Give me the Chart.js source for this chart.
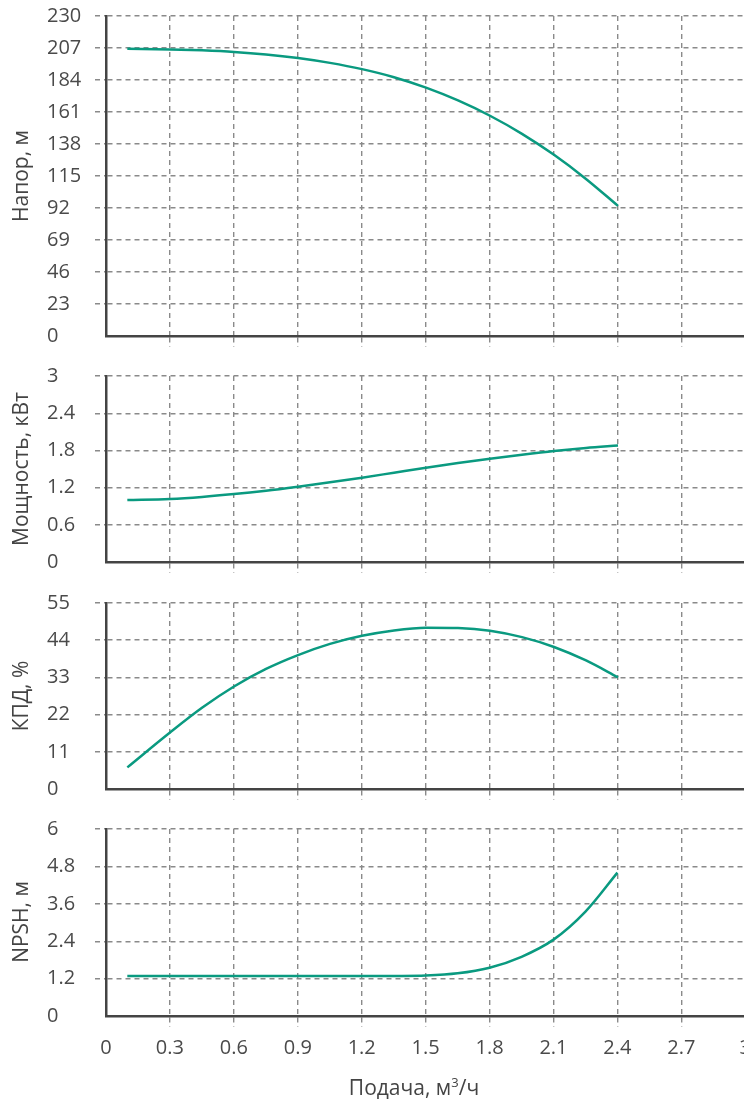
<!DOCTYPE html>
<html>
<head>
<meta charset="utf-8">
<script src="https://cdn.jsdelivr.net/npm/chart.js@4/dist/chart.umd.min.js"></script>
<style>
  html, body { margin: 0; padding: 0; background: #fff; overflow: hidden; }
  body { width: 744px; height: 1103px; position: relative; font-family: "Open Sans", sans-serif; color: #444; }
  .panel { position: absolute; left: 0; line-height: 0; }
  .panel canvas { display: block; }
  .ytitle {
    position: absolute; left: 20px; font-size: 21px; white-space: nowrap;
    transform: translate(-50%, -50%) rotate(-90deg);
  }
  .xtitle { position: absolute; top: 1087px; left: 414px; font-size: 21px; white-space: nowrap; transform: translate(-50%, -50%); }
</style>
</head>
<body>

<div class="panel" style="top:0px"><canvas id="c1" width="760" height="356"></canvas></div>
<div class="panel" style="top:360px"><canvas id="c2" width="760" height="222"></canvas></div>
<div class="panel" style="top:587px"><canvas id="c3" width="760" height="222"></canvas></div>
<div class="panel" style="top:813px"><canvas id="c4" width="760" height="290"></canvas></div>

<div class="ytitle" style="top:176px">Напор, м</div>
<div class="ytitle" style="top:469px">Мощность, кВт</div>
<div class="ytitle" style="top:696px">КПД, %</div>
<div class="ytitle" style="top:922px">NPSH, м</div>
<div class="xtitle">Подача, м<sup style="font-size:13px">3</sup>/ч</div>

<script>
// подача, м3/ч
const flow = [0.1, 0.3, 0.45, 0.6, 0.75, 0.9, 1.05, 1.2, 1.35, 1.5, 1.65, 1.8, 1.95, 2.1, 2.25, 2.4];
const head = [206.5, 206.0, 205.3, 204.2, 202.4, 199.8, 196.3, 191.8, 186.0, 178.5, 169.3, 158.3, 145.3, 130.2, 112.9, 93.5];
const power = [1.0, 1.018, 1.05, 1.095, 1.15, 1.215, 1.285, 1.36, 1.44, 1.52, 1.595, 1.665, 1.73, 1.79, 1.84, 1.88];
const eff = [6.4, 16.7, 24.0, 30.3, 35.5, 39.6, 42.9, 45.3, 46.9, 47.7, 47.6, 46.8, 44.9, 42.0, 38.0, 33.0];
const npsh = [1.28, 1.28, 1.28, 1.28, 1.28, 1.28, 1.28, 1.28, 1.285, 1.3, 1.37, 1.55, 1.9, 2.45, 3.35, 4.6];

const xTicks = [0, 0.3, 0.6, 0.9, 1.2, 1.5, 1.8, 2.1, 2.4, 2.7, 3];
const headTicks = [0, 23, 46, 69, 92, 115, 138, 161, 184, 207, 230];
const powerTicks = [0, 0.6, 1.2, 1.8, 2.4, 3];
const effTicks = [0, 11, 22, 33, 44, 55];
const npshTicks = [0, 1.2, 2.4, 3.6, 4.8, 6];

const LINE = '#0a9a80';
const GRID = '#8a8a8a';
const AXIS = '#444';
const tickFont = { family: 'Open Sans', size: 20 };

function makePanel(id, values, yTicks, isBottom, plotH) {
  const canvas = document.getElementById(id);
  const xHeight = isBottom ? canvas.height - 16 - plotH : 20;
  const gridColor = c => c.tick && c.tick.value === 0 ? 'rgba(0,0,0,0)' : GRID;

  return new Chart(canvas, {
    type: 'line',
    data: {
      datasets: [{
        data: flow.map((x, i) => ({ x, y: values[i] })),
        borderColor: LINE,
        borderWidth: 2.5,
        pointRadius: 0,
        cubicInterpolationMode: 'monotone',
        fill: false
      }]
    },
    options: {
      responsive: false,
      animation: false,
      layout: { padding: { top: 16, left: 47, right: 14, bottom: 0 } },
      plugins: { legend: { display: false }, tooltip: { enabled: false } },
      scales: {
        x: {
          type: 'linear',
          min: 0, max: 3,
          afterBuildTicks: s => { s.ticks = xTicks.map(v => ({ value: v })); },
          afterFit: s => { s.height = xHeight; },
          border: { display: true, color: AXIS, width: 2.5, dash: [5, 4] },
          grid: {
            color: gridColor,
            lineWidth: 1.4,
            tickBorderDash: [5, 4],
            tickLength: 11
          },
          ticks: {
            display: isBottom,
            font: tickFont,
            color: '#4a4a4a',
            padding: 9,
            maxRotation: 0,
            callback: v => String(v)
          }
        },
        y: {
          min: yTicks[0], max: yTicks[yTicks.length - 1],
          afterBuildTicks: s => { s.ticks = yTicks.map(v => ({ value: v })); },
          afterFit: s => { s.width = 59; },
          border: { display: true, color: AXIS, width: 2.5, dash: [5, 4] },
          grid: {
            color: gridColor,
            lineWidth: 1.4,
            tickBorderDash: [5, 4],
            tickLength: 11
          },
          ticks: {
            font: tickFont,
            color: '#4a4a4a',
            crossAlign: 'far',
            padding: 0,
            callback: v => String(v)
          }
        }
      }
    }
  });
}

makePanel('c1', head, headTicks, false, 320);
makePanel('c2', power, powerTicks, false, 186);
makePanel('c3', eff, effTicks, false, 186);
makePanel('c4', npsh, npshTicks, true, 187);
</script>
</body>
</html>
